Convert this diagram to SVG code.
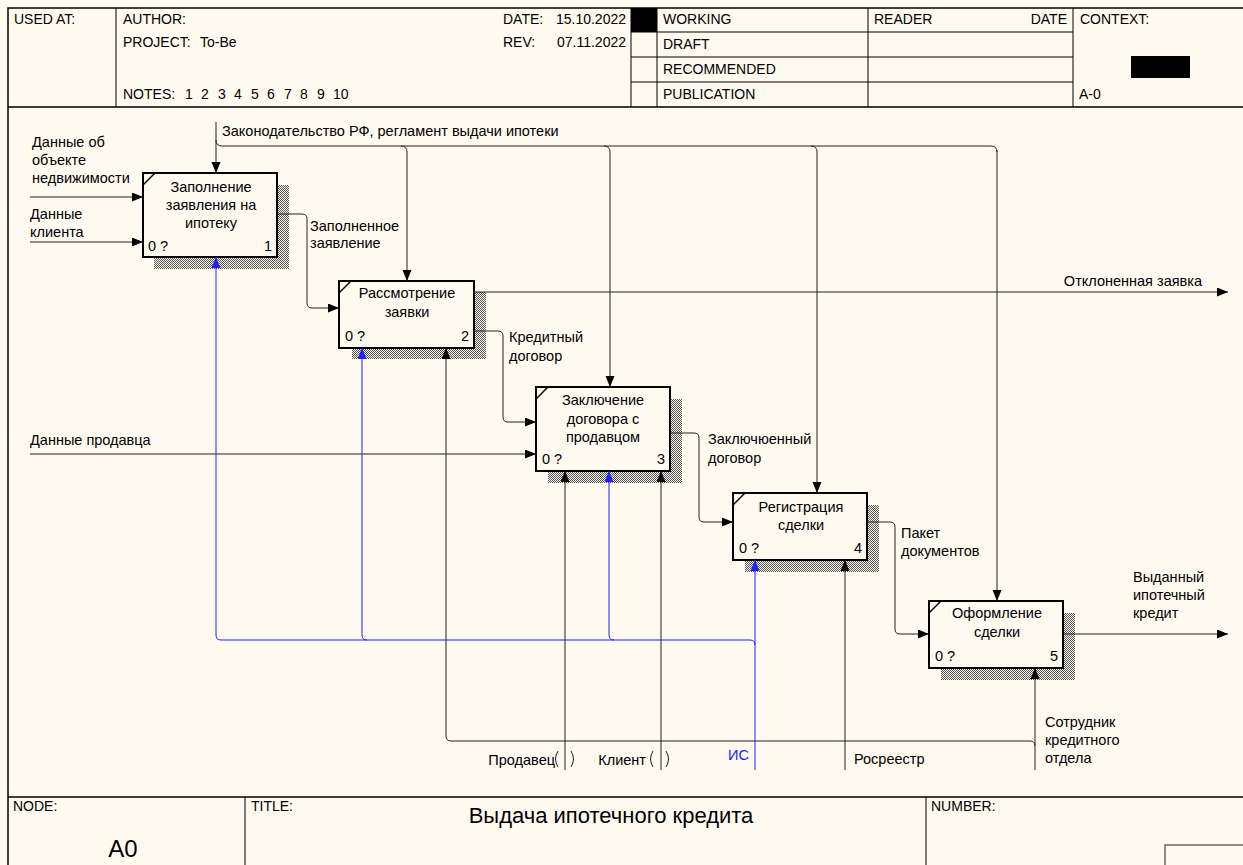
<svg xmlns="http://www.w3.org/2000/svg" width="1243" height="865" viewBox="0 0 1243 865">
  <style>
    text { font-family: "Liberation Sans", Arial, sans-serif; font-size: 14.5px; fill: #000; }
    .hd { font-size: 14px; }
    .frame { fill: none; stroke: #000; stroke-width: 1.5; }
    .grid { fill: none; stroke: #000; stroke-width: 1; }
    .box { fill: #fffaf0; stroke: #000; stroke-width: 2; }
    .shadow { fill: url(#hatch); stroke: none; }
    .corner { stroke: #000; stroke-width: 1.5; }
    .c { text-anchor: middle; }
    .e { text-anchor: end; }
    .arrow { fill: none; stroke: #222; stroke-width: 1; }
    .arrowhead { fill: none; stroke: #222; stroke-width: 1; marker-end: url(#ah); }
    .blue { fill: none; stroke: #2020ff; stroke-width: 1; }
    .bluehead { fill: none; stroke: #2020ff; stroke-width: 1; marker-end: url(#ahb); }
    .bluetext { fill: #2020ff; }
  </style>
  <defs>
    <pattern id="hatch" width="2" height="2" patternUnits="userSpaceOnUse">
      <rect width="2" height="2" fill="#fffaf0"/>
      <rect x="0" y="0" width="1" height="1" fill="#555"/>
      <rect x="1" y="1" width="1" height="1" fill="#555"/>
    </pattern>
    <marker id="ah" markerUnits="userSpaceOnUse" markerWidth="12" markerHeight="10" refX="11" refY="4.5" orient="auto">
      <path d="M0,0 L11,4.5 L0,9 z" fill="#000"/>
    </marker>
    <marker id="ahb" markerUnits="userSpaceOnUse" markerWidth="12" markerHeight="10" refX="11" refY="4.5" orient="auto">
      <path d="M0,0 L11,4.5 L0,9 z" fill="#2020ff"/>
    </marker>
  </defs>

  <rect width="1243" height="865" fill="#fffaf0"/>

  <!-- form frame: header -->
  <g id="header">
    <path class="frame" d="M8,865 V8 H1250 M8,107 H1250"/>
    <path class="grid" d="M116,8 V107 M631,8 V107 M657,8 V107 M868,8 V107 M1073,8 V107 M631,32 H1073 M631,57 H1073 M631,82 H1073"/>
    <rect x="631" y="8" width="26" height="24" fill="#000"/>
    <rect x="1131" y="56" width="59" height="22" fill="#000"/>
    <text class="hd" x="14" y="24">USED AT:</text>
    <text class="hd" x="123" y="24">AUTHOR:</text>
    <text class="hd" x="123" y="47">PROJECT:</text>
    <text class="hd" x="200" y="47">To-Be</text>
    <text class="hd" x="123" y="99">NOTES:</text>
    <text class="hd" x="185" y="99">1</text>
    <text class="hd" x="201" y="99">2</text>
    <text class="hd" x="218" y="99">3</text>
    <text class="hd" x="234" y="99">4</text>
    <text class="hd" x="251" y="99">5</text>
    <text class="hd" x="267" y="99">6</text>
    <text class="hd" x="284" y="99">7</text>
    <text class="hd" x="300" y="99">8</text>
    <text class="hd" x="317" y="99">9</text>
    <text class="hd" x="333" y="99">10</text>
    <text class="hd" x="503" y="24">DATE:</text>
    <text class="hd e" x="626" y="24">15.10.2022</text>
    <text class="hd" x="503" y="47">REV:</text>
    <text class="hd e" x="626" y="47">07.11.2022</text>
    <text class="hd" x="663" y="24">WORKING</text>
    <text class="hd" x="663" y="49">DRAFT</text>
    <text class="hd" x="663" y="74">RECOMMENDED</text>
    <text class="hd" x="663" y="99">PUBLICATION</text>
    <text class="hd" x="874" y="24">READER</text>
    <text class="hd e" x="1067" y="24">DATE</text>
    <text class="hd" x="1080" y="24">CONTEXT:</text>
    <text class="hd" x="1079" y="99">A-0</text>
  </g>

  <!-- form frame: footer -->
  <g id="footer">
    <path class="frame" d="M8,797 H1250"/>
    <path class="grid" d="M245,797 V865 M926,797 V865"/>
    <rect x="1165" y="845" width="90" height="30" fill="none" stroke="#666" stroke-width="1.5"/>
    <text class="hd" x="13" y="811">NODE:</text>
    <text class="hd" x="251" y="811">TITLE:</text>
    <text class="hd" x="931" y="811">NUMBER:</text>
    <text x="123" y="857" class="c" style="font-size:24px">A0</text>
    <text x="611" y="823" class="c" style="font-size:22px">Выдача ипотечного кредита</text>
  </g>

  <!-- activity boxes -->
  <g id="box1">
    <rect class="shadow" x="154" y="185" width="135" height="84"/>
    <rect class="box" x="143" y="173" width="134" height="84"/>
    <line class="corner" x1="143" y1="185" x2="155" y2="173"/>
    <text x="211" y="192" class="c">Заполнение</text>
    <text x="211" y="210" class="c">заявления на</text>
    <text x="211" y="228" class="c">ипотеку</text>
    <text x="148" y="251">0 ?</text>
    <text x="272" y="251" class="e">1</text>
  </g>
  <g id="box2">
    <rect class="shadow" x="352" y="292" width="134" height="67"/>
    <rect class="box" x="339" y="281" width="135" height="67"/>
    <line class="corner" x1="339" y1="293" x2="351" y2="281"/>
    <text x="407" y="298" class="c">Рассмотрение</text>
    <text x="407" y="317" class="c">заявки</text>
    <text x="345" y="341">0 ?</text>
    <text x="469" y="341" class="e">2</text>
  </g>
  <g id="box3">
    <rect class="shadow" x="548" y="399" width="134" height="84"/>
    <rect class="box" x="536" y="387" width="134" height="84"/>
    <line class="corner" x1="536" y1="399" x2="548" y2="387"/>
    <text x="603" y="405" class="c">Заключение</text>
    <text x="603" y="424" class="c">договора с</text>
    <text x="603" y="442" class="c">продавцом</text>
    <text x="542" y="464">0 ?</text>
    <text x="665" y="464" class="e">3</text>
  </g>
  <g id="box4">
    <rect class="shadow" x="745" y="505" width="134" height="67"/>
    <rect class="box" x="733" y="493" width="134" height="67"/>
    <line class="corner" x1="733" y1="505" x2="745" y2="493"/>
    <text x="801" y="512" class="c">Регистрация</text>
    <text x="801" y="530" class="c">сделки</text>
    <text x="739" y="553">0 ?</text>
    <text x="862" y="553" class="e">4</text>
  </g>
  <g id="box5">
    <rect class="shadow" x="941" y="613" width="134" height="67"/>
    <rect class="box" x="929" y="601" width="134" height="67"/>
    <line class="corner" x1="929" y1="613" x2="941" y2="601"/>
    <text x="997" y="618" class="c">Оформление</text>
    <text x="997" y="637" class="c">сделки</text>
    <text x="935" y="661">0 ?</text>
    <text x="1058" y="661" class="e">5</text>
  </g>

  <!-- connectors -->
  <g id="connectors">
    <!-- control: legislation -->
    <path class="arrowhead" d="M216,122 V173"/>
    <path class="arrow" d="M216,140 Q216,146 222,146 H991 Q997,146 997,152"/>
    <path class="arrowhead" d="M401,146 Q407,146 407,152 V281"/>
    <path class="arrowhead" d="M604,146 Q610,146 610,152 V387"/>
    <path class="arrowhead" d="M811,146 Q817,146 817,152 V493"/>
    <path class="arrowhead" d="M997,150 V601"/>

    <!-- inputs -->
    <path class="arrowhead" d="M30,197 H143"/>
    <path class="arrowhead" d="M30,242 H143"/>
    <path class="arrowhead" d="M30,454 H536"/>

    <!-- box to box flows -->
    <path class="arrowhead" d="M277,214 H302 Q307,214 307,219 V303 Q307,308 312,308 H339"/>
    <path class="arrowhead" d="M474,331 H498 Q503,331 503,336 V417 Q503,422 508,422 H536"/>
    <path class="arrowhead" d="M670,433 H694 Q699,433 699,438 V517 Q699,522 704,522 H733"/>
    <path class="arrowhead" d="M867,522 H890 Q895,522 895,527 V629 Q895,634 900,634 H929"/>

    <!-- outputs -->
    <path class="arrowhead" d="M474,292 H1228"/>
    <path class="arrowhead" d="M1063,634 H1228"/>

    <!-- mechanisms: black -->
    <path class="arrowhead" d="M565,770 V471"/>
    <path class="arrowhead" d="M661,770 V471"/>
    <path class="arrowhead" d="M845,770 V560"/>
    <path class="arrowhead" d="M1035,770 V668"/>
    <path class="arrow" d="M1030,741 Q1035,741 1035,746"/>
    <path class="arrowhead" d="M1030,741 H451 Q446,741 446,736 V348"/>

    <!-- tunnel brackets -->
    <path class="arrow" d="M558,751 Q553,759 558,767 M571,751 Q576,759 571,767"/>
    <path class="arrow" d="M653,751 Q648,759 653,767 M666,751 Q671,759 666,767"/>

    <!-- mechanisms: information system -->
    <path class="bluehead" d="M755,770 V560"/>
    <path class="blue" d="M750,640 Q755,640 755,645"/>
    <path class="bluehead" d="M750,640 H221 Q216,640 216,635 V257"/>
    <path class="bluehead" d="M367,640 Q362,640 362,635 V348"/>
    <path class="bluehead" d="M614,640 Q609,640 609,635 V471"/>
  </g>

  <!-- connector labels -->
  <g id="labels">
    <text x="222" y="136">Законодательство РФ, регламент выдачи ипотеки</text>
    <text x="32" y="147">Данные об</text>
    <text x="32" y="165">объекте</text>
    <text x="32" y="183">недвижимости</text>
    <text x="30" y="219">Данные</text>
    <text x="30" y="237">клиента</text>
    <text x="30" y="445">Данные продавца</text>
    <text x="310" y="231">Заполненное</text>
    <text x="310" y="248">заявление</text>
    <text x="509" y="342">Кредитный</text>
    <text x="509" y="361">договор</text>
    <text x="708" y="444">Заключюенный</text>
    <text x="708" y="463">договор</text>
    <text x="901" y="538">Пакет</text>
    <text x="901" y="556">документов</text>
    <text x="1202" y="286" class="e">Отклоненная заявка</text>
    <text x="1133" y="582">Выданный</text>
    <text x="1133" y="600">ипотечный</text>
    <text x="1133" y="618">кредит</text>
    <text x="555" y="765" class="e">Продавец</text>
    <text x="646" y="765" class="e">Клиент</text>
    <text x="728" y="760" class="bluetext">ИС</text>
    <text x="854" y="764">Росреестр</text>
    <text x="1045" y="727">Сотрудник</text>
    <text x="1045" y="745">кредитного</text>
    <text x="1045" y="763">отдела</text>
  </g>
</svg>
